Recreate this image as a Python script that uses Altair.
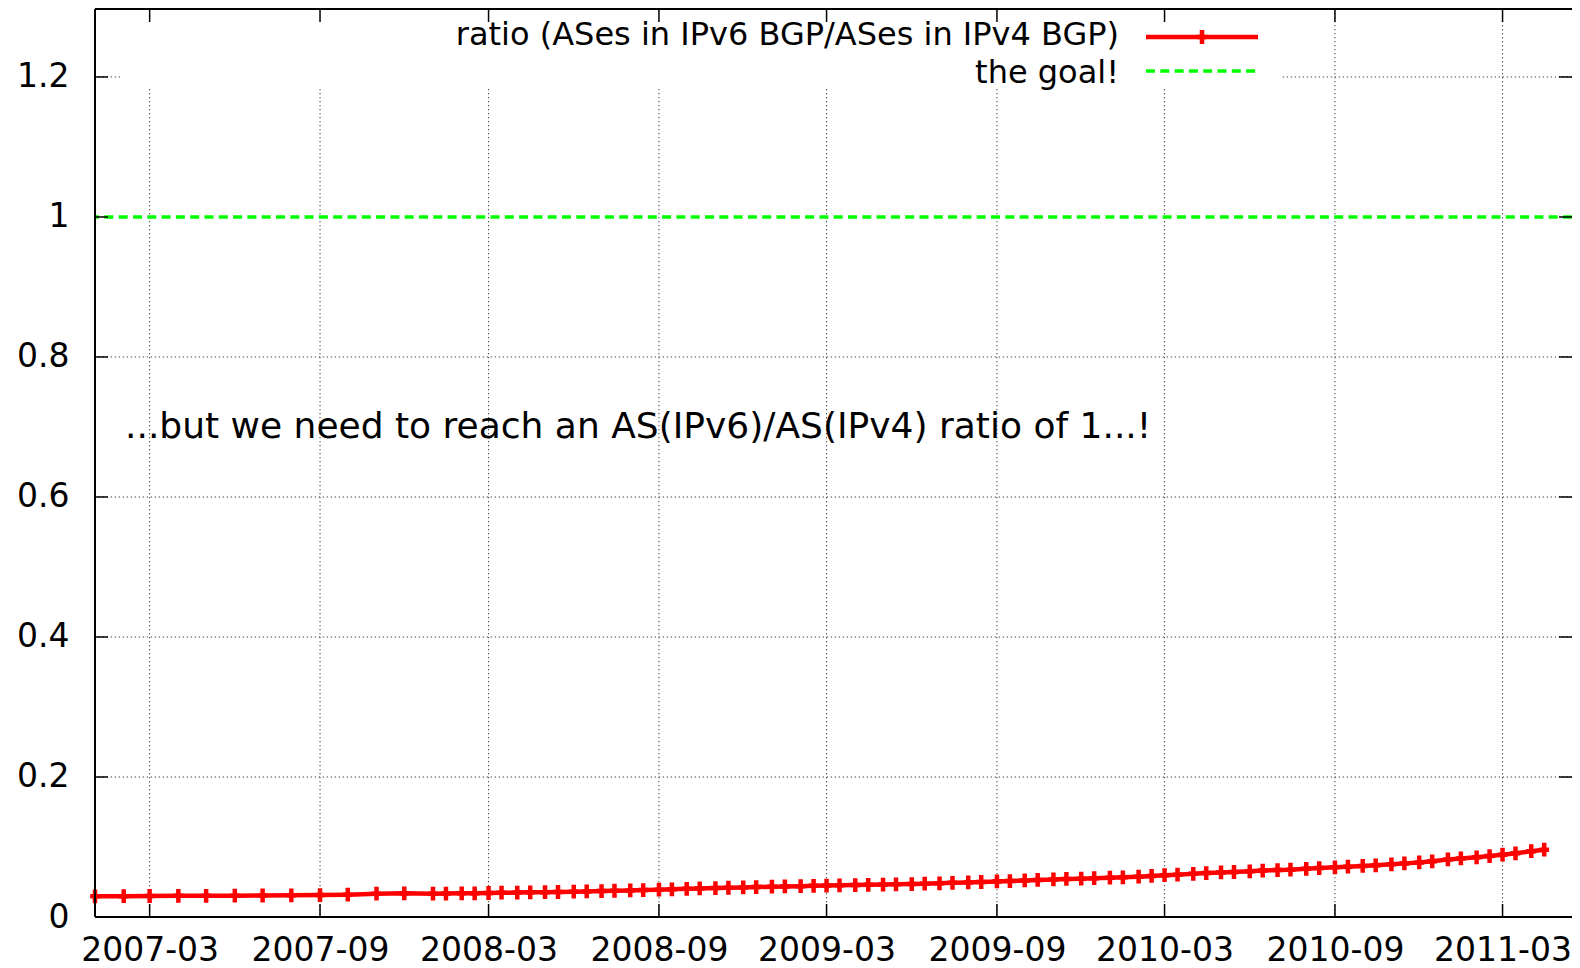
import altair as alt
import pandas as pd

# ---------------- data ----------------
dates = [
    "2007-01-01", "2007-02-01", "2007-03-01", "2007-04-01", "2007-05-01", "2007-06-01",
    "2007-07-01", "2007-08-01", "2007-09-01", "2007-10-01", "2007-11-01", "2007-12-01",
    "2008-01-01", "2008-01-15", "2008-02-01", "2008-02-15", "2008-03-01", "2008-03-15",
    "2008-04-01", "2008-04-15", "2008-05-01", "2008-05-15", "2008-06-01", "2008-06-15",
    "2008-07-01", "2008-07-15", "2008-08-01", "2008-08-15", "2008-09-01", "2008-09-15",
    "2008-10-01", "2008-10-15", "2008-11-01", "2008-11-15", "2008-12-01", "2008-12-15",
    "2009-01-01", "2009-01-15", "2009-02-01", "2009-02-15", "2009-03-01", "2009-03-15",
    "2009-04-01", "2009-04-15", "2009-05-01", "2009-05-15", "2009-06-01", "2009-06-15",
    "2009-07-01", "2009-07-15", "2009-08-01", "2009-08-15", "2009-09-01", "2009-09-15",
    "2009-10-01", "2009-10-15", "2009-11-01", "2009-11-15", "2009-12-01", "2009-12-15",
    "2010-01-01", "2010-01-15", "2010-02-01", "2010-02-15", "2010-03-01", "2010-03-15",
    "2010-04-01", "2010-04-15", "2010-05-01", "2010-05-15", "2010-06-01", "2010-06-15",
    "2010-07-01", "2010-07-15", "2010-08-01", "2010-08-15", "2010-09-01", "2010-09-15",
    "2010-10-01", "2010-10-15", "2010-11-01", "2010-11-15", "2010-12-01", "2010-12-15",
    "2011-01-01", "2011-01-15", "2011-02-01", "2011-02-15", "2011-03-01", "2011-03-15",
    "2011-04-01", "2011-04-15",
]
ratio = [
    0.0296, 0.0298, 0.0300, 0.0302, 0.0303, 0.0305, 0.0307, 0.0309, 0.0314, 0.0319, 0.0333, 0.0338,
    0.0333, 0.0334, 0.0338, 0.0339, 0.0343, 0.0347, 0.0349, 0.0353, 0.0355, 0.0357, 0.0361, 0.0366,
    0.0370, 0.0375, 0.0380, 0.0385, 0.0390, 0.0395, 0.0402, 0.0408, 0.0413, 0.0418, 0.0423, 0.0428,
    0.0433, 0.0437, 0.0441, 0.0445, 0.0449, 0.0453, 0.0456, 0.0460, 0.0463, 0.0467, 0.0471, 0.0476,
    0.0481, 0.0488, 0.0494, 0.0500, 0.0508, 0.0514, 0.0522, 0.0530, 0.0536, 0.0544, 0.0548, 0.0554,
    0.0562, 0.0567, 0.0576, 0.0586, 0.0598, 0.0605, 0.0617, 0.0627, 0.0636, 0.0643, 0.0652, 0.0664,
    0.0670, 0.0676, 0.0689, 0.0699, 0.0710, 0.0719, 0.0729, 0.0738, 0.0752, 0.0766, 0.0780, 0.0795,
    0.0822, 0.0837, 0.0852, 0.0870, 0.0890, 0.0910, 0.0940, 0.0962,
]
goal = 1.0
x_tick_dates = ["2007-03-01", "2007-09-01", "2008-03-01", "2008-09-01", "2009-03-01",
                "2009-09-01", "2010-03-01", "2010-09-01", "2011-03-01"]
y_ticks = [0, 0.2, 0.4, 0.6, 0.8, 1.0, 1.2]
x_range = ["2007-01-01", "2011-05-15"]
y_range = [0, 1.2971]
legend_labels = ["ratio (ASes in IPv6 BGP/ASes in IPv4 BGP)", "the goal!"]
annotation = "...but we need to reach an AS(IPv6)/AS(IPv4) ratio of 1...!"

# ---------------- style ----------------
W, H = 1477, 908
FONT = "DejaVu Sans"
RED = "#ff0000"
GREEN = "#00ff00"
PLUS = "M0,-1L0,1M-0.7,0L0.7,0"
TICK = 13


def dt(s):
    return alt.DateTime(year=int(s[:4]), month=int(s[5:7]), date=int(s[8:10]), utc=True)


x_scale = alt.Scale(type="utc", domain=[dt(x_range[0]), dt(x_range[1])], nice=False)
y_scale = alt.Scale(domain=y_range, nice=False, zero=False)

df = pd.DataFrame({"date": dates, "value": ratio})
xt = pd.DataFrame({"date": x_tick_dates})
yt = pd.DataFrame({"value": [v for v in y_ticks if v > 0]})
yg = pd.DataFrame({"value": [v for v in y_ticks if v > 0 and v != goal]})
one = pd.DataFrame({"k": [0]})

X = alt.X("date:T", scale=x_scale, axis=None)
Y = alt.Y("value:Q", scale=y_scale, axis=None)

grid_style = dict(color="#444444", strokeWidth=1, strokeDash=[1.3, 2.7])

grid_x = alt.Chart(xt).mark_rule(**grid_style).encode(x=X)
grid_y = alt.Chart(yg).mark_rule(**grid_style).encode(y=Y)

legend_bg = alt.Chart(one).mark_rect(color="white").encode(
    x=alt.value(25), x2=alt.value(1187), y=alt.value(2), y2=alt.value(80)
)

goal_line = alt.Chart(one).mark_rule(
    color=GREEN, strokeWidth=3.3, strokeDash=[9, 5.3]
).encode(y=alt.Y(datum=goal, scale=y_scale, axis=None))

line = alt.Chart(df).mark_line(color=RED, strokeWidth=4.5).encode(
    x=alt.X(
        "date:T", scale=x_scale,
        axis=alt.Axis(
            values=[dt(s) for s in x_tick_dates], format="%Y-%m", title=None,
            labelFont=FONT, labelFontSize=33, labelColor="black", labelPadding=17,
            ticks=False, tickSize=0, domain=False, grid=False,
            labelOverlap=False, labelFlush=False,
        ),
    ),
    y=alt.Y(
        "value:Q", scale=y_scale,
        axis=alt.Axis(
            values=y_ticks, format="~g", title=None,
            labelFont=FONT, labelFontSize=33, labelColor="black", labelPadding=26,
            ticks=False, tickSize=0, domain=False, grid=False, labelOverlap=False,
        ),
    ),
)

points = alt.Chart(df).mark_point(
    shape=PLUS, filled=False, color=RED, strokeWidth=4.5, size=190, opacity=1
).encode(x=X, y=Y)

tick_style = dict(color="black", strokeWidth=1.5)
ticks_bottom = alt.Chart(xt).mark_rule(**tick_style).encode(
    x=X, y=alt.value(H - TICK), y2=alt.value(H))
ticks_top = alt.Chart(xt).mark_rule(**tick_style).encode(
    x=X, y=alt.value(0), y2=alt.value(TICK))
ticks_left = alt.Chart(yt).mark_rule(**tick_style).encode(
    y=Y, x=alt.value(0), x2=alt.value(TICK))
ticks_right = alt.Chart(yt).mark_rule(**tick_style).encode(
    y=Y, x=alt.value(W - TICK), x2=alt.value(W))

border_style = dict(color="black", strokeWidth=2)
border_top = alt.Chart(one).mark_rule(**border_style).encode(
    x=alt.value(0), x2=alt.value(W), y=alt.value(0))
border_bottom = alt.Chart(one).mark_rule(**border_style).encode(
    x=alt.value(0), x2=alt.value(W), y=alt.value(H))
border_left = alt.Chart(one).mark_rule(**border_style).encode(
    x=alt.value(0), y=alt.value(0), y2=alt.value(H))

note = alt.Chart(one).mark_text(
    text=annotation, align="left", baseline="alphabetic",
    font=FONT, fontSize=36, color="black"
).encode(x=alt.value(30), y=alt.value(429))

leg_text1 = alt.Chart(one).mark_text(
    text=legend_labels[0], align="right", baseline="middle",
    font=FONT, fontSize=32, color="black"
).encode(x=alt.value(1024), y=alt.value(26))
leg_text2 = alt.Chart(one).mark_text(
    text=legend_labels[1], align="right", baseline="middle",
    font=FONT, fontSize=32, color="black"
).encode(x=alt.value(1024), y=alt.value(64))
leg_line1 = alt.Chart(one).mark_rule(color=RED, strokeWidth=4.5).encode(
    x=alt.value(1051), x2=alt.value(1163), y=alt.value(28))
leg_mark1 = alt.Chart(one).mark_point(
    shape=PLUS, filled=False, color=RED, strokeWidth=4.5, size=190, opacity=1
).encode(x=alt.value(1107), y=alt.value(28))
leg_line2 = alt.Chart(one).mark_rule(
    color=GREEN, strokeWidth=3.3, strokeDash=[9, 5.3]
).encode(x=alt.value(1051), x2=alt.value(1161), y=alt.value(62))

chart = alt.layer(
    grid_x, grid_y, legend_bg, goal_line, line, points,
    ticks_bottom, ticks_top, ticks_left, ticks_right,
    border_top, border_bottom, border_left,
    note, leg_text1, leg_text2, leg_line1, leg_mark1, leg_line2,
).resolve_axis(
    x="independent", y="independent"
).properties(
    width=W, height=H,
    autosize=alt.AutoSizeParams(type="none"),
    padding={"left": 87, "top": 1, "right": 0, "bottom": 50},
    background="white",
).configure_view(strokeWidth=0)

chart.save("out.html", embed_options={"renderer": "svg", "actions": False})
